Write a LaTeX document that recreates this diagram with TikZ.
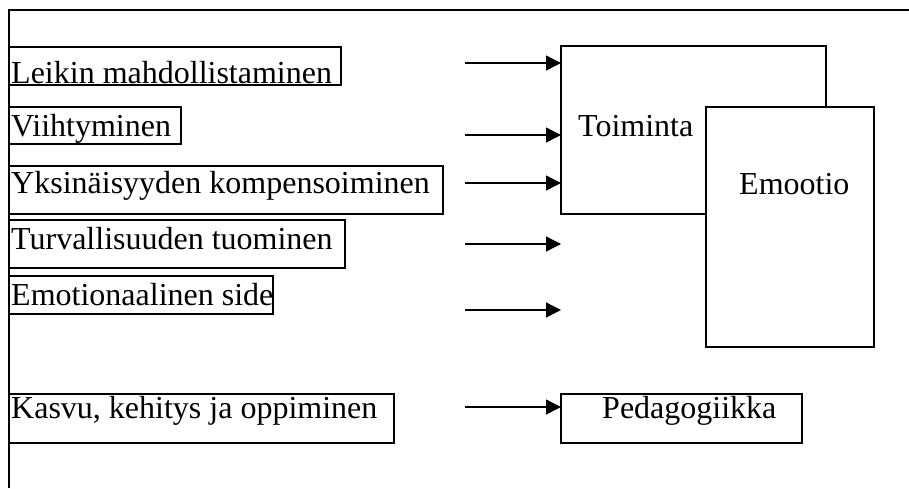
\documentclass[tikz,border=0pt]{standalone}
\usepackage{fontspec}
\setmainfont{Liberation Serif}
\usetikzlibrary{arrows.meta}
\begin{document}
\begin{tikzpicture}[x=1pt,y=-1pt,
  frame/.style={line width=1.4pt},
  box/.style={draw, line width=1.4pt, rectangle, anchor=north west, inner sep=0pt, outer sep=0pt, fill=white},
  txt/.style={anchor=base west, inner sep=0pt, font=\fontsize{32}{38}\selectfont},
  arr/.style={line width=1.4pt, -{Triangle[length=15pt,width=15pt]}}]
\useasboundingbox (0,0) rectangle (909,488);
\fill[white] (0,0) rectangle (909,488);

% open outer frame: top and left sides only
\draw[frame] (9,488) |- (909,10);

% factor boxes on the left
\node[box, minimum width=332pt, minimum height=38pt] (leikin) at (9,47) {};
\node[txt] (tleikin) at (11,83) {Leikin mahdollistaminen};
\node[box, minimum width=172pt, minimum height=37pt] (viiht) at (9,107) {};
\node[txt] (tviiht) at (11,136) {Viihtyminen};
\node[box, minimum width=434pt, minimum height=48pt] (yksin) at (9,166) {};
\node[txt] (tyksin) at (11,193) {Yksinäisyyden kompensoiminen};
\node[box, minimum width=336pt, minimum height=48pt] (turva) at (9,220) {};
\node[txt] (tturva) at (11,249) {Turvallisuuden tuominen};
\node[box, minimum width=264pt, minimum height=38pt] (emot) at (9,276) {};
\node[txt] (temot) at (11,305) {Emotionaalinen side};
\node[box, minimum width=385pt, minimum height=49pt] (kasvu) at (9,394) {};
\node[txt] (tkasvu) at (11,418) {Kasvu, kehitys ja oppiminen};

% target boxes on the right
\node[box, minimum width=265pt, minimum height=168pt] (toim) at (561,46) {};
\node[txt] (ttoim) at (578,136) {Toiminta};
\node[box, minimum width=168pt, minimum height=240pt] (emoo) at (706,107) {};
\node[txt] (temoo) at (739,194) {Emootio};
\node[box, minimum width=241pt, minimum height=49pt] (peda) at (561,394) {};
\node[txt] (tpeda) at (602,418) {Pedagogiikka};

% arrow start and free end points
\coordinate (s1) at (465,63);
\coordinate (s2) at (465,135);
\coordinate (s3) at (465,183);
\coordinate (s4) at (465,244);
\coordinate (s5) at (465,310);
\coordinate (s6) at (465,407);
\coordinate (e4) at (561,244);
\coordinate (e5) at (561,310);

\draw[arr] (s1) -- (s1 -| toim.west);
\draw[arr] (s2) -- (s2 -| toim.west);
\draw[arr] (s3) -- (s3 -| toim.west);
\draw[arr] (s4) -- (e4);
\draw[arr] (s5) -- (e5);
\draw[arr] (s6) -- (s6 -| peda.west);
\end{tikzpicture}
\end{document}
